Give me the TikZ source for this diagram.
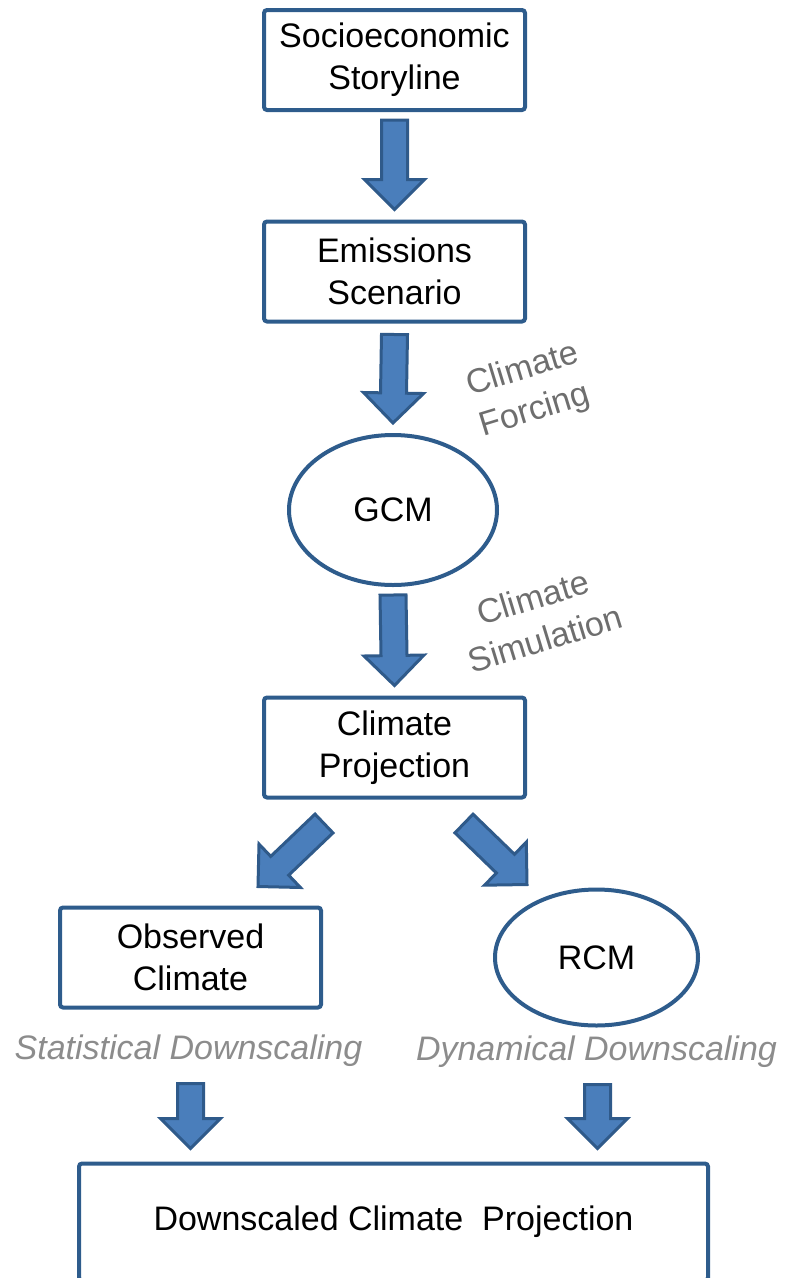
\documentclass[tikz,border=0pt]{standalone}
\usepackage{fontspec}
\setmainfont{Liberation Sans}
\usepackage{tikz}
\usetikzlibrary{calc,shapes.geometric}
\usepackage{xcolor}
\definecolor{box_blue}{HTML}{2E5C8C}
\definecolor{arrow_blue}{HTML}{4A7EBB}
\definecolor{arrow_edge}{HTML}{2F5A8A}
\definecolor{label_grey}{HTML}{6E6E6E}
\definecolor{italic_grey}{HTML}{8C8C8C}

\tikzset{
	box/.style={draw=box_blue, line width=4pt, rounded corners=3pt, minimum width=261pt, minimum height=100pt, inner sep=0pt, align=center, font=\fontsize{34}{42}\selectfont},
	model/.style={ellipse, draw=box_blue, line width=4pt, inner sep=0pt, font=\fontsize{34}{42}\selectfont},
	fat_arrow/.style={fill=arrow_blue, draw=arrow_edge, line width=3pt, line join=miter},
	flow_label/.style={text=label_grey, align=center, rotate=17, font=\fontsize{34}{43}\selectfont},
	method_label/.style={text=italic_grey, anchor=base, font=\fontsize{34}{42}\selectfont\itshape}
}

\newcommand{\blockarrow}[2]{%
	\coordinate (h) at ($(#2)!30pt!(#1)$);
	\draw[fat_arrow] ($(#1)!13pt!90:(#2)$) -- ($(h)!13pt!90:(#2)$) -- ($(h)!30pt!90:(#2)$) -- (#2)
		-- ($(h)!30pt!-90:(#2)$) -- ($(h)!13pt!-90:(#2)$) -- ($(#1)!13pt!-90:(#2)$) -- cycle;
}

\begin{document}
\begin{tikzpicture}[x=1pt, y=-1pt]
	\useasboundingbox (0, 0) rectangle (785, 1278);
	\node[box] (story) at (394.5, 60) {Socioeconomic\\Storyline};
	\node[box] (emis) at (394.5, 271.5) {Emissions\\Scenario};
	\node[model, minimum width=208pt, minimum height=150pt] (gcm) at (393, 510) {GCM};
	\node[box] (proj) at (394.5, 747.5) {Climate\\Projection};
	\node[box] (obs) at (190.5, 957.5) {Observed\\Climate};
	\node[model, minimum width=203pt, minimum height=136pt] (rcm) at (596.5, 957.5) {RCM};
	\node[box, minimum width=629pt, minimum height=117pt] (down) at (393.5, 1222) {Downscaled Climate~ Projection};
	\node[flow_label] (forcing) at (529, 391) {Climate\\Forcing};
	\node[flow_label] (simulation) at (539, 618) {Climate\\Simulation};
	\node[method_label] (statistical) at (188.5, 1059) {Statistical Downscaling};
	\node[method_label] (dynamical) at (596.5, 1060) {Dynamical Downscaling};
	\coordinate (a1s) at ($(story.south)+(0, 8)$);
	\coordinate (a1e) at ($(emis.north)+(0, -10)$);
	\coordinate (a2s) at ($(emis.south)+(0, 11)$);
	\coordinate (a2e) at ($(gcm.north)+(0, -10)$);
	\coordinate (a3s) at ($(gcm.south)+(0, 8)$);
	\coordinate (a3e) at ($(proj.north)+(0, -10)$);
	\coordinate (a4s) at ($(proj.south)+(-70.5, 24)$);
	\coordinate (a4e) at ($(obs.north)+(67.5, -19)$);
	\coordinate (a5s) at ($(proj.south)+(69.5, 24)$);
	\coordinate (a5e) at ($(rcm.north)+(-69.5, -3)$);
	\coordinate (a6s) at ($(obs.south)+(0, 74)$);
	\coordinate (a6e) at ($(obs.south |- down.north)+(0, -13)$);
	\coordinate (a7s) at ($(rcm.south)+(1, 57)$);
	\coordinate (a7e) at ($(rcm.south |- down.north)+(1, -13)$);
	\blockarrow{a1s}{a1e}
	\blockarrow{a2s}{a2e}
	\blockarrow{a3s}{a3e}
	\blockarrow{a4s}{a4e}
	\blockarrow{a5s}{a5e}
	\blockarrow{a6s}{a6e}
	\blockarrow{a7s}{a7e}
\end{tikzpicture}
\end{document}
